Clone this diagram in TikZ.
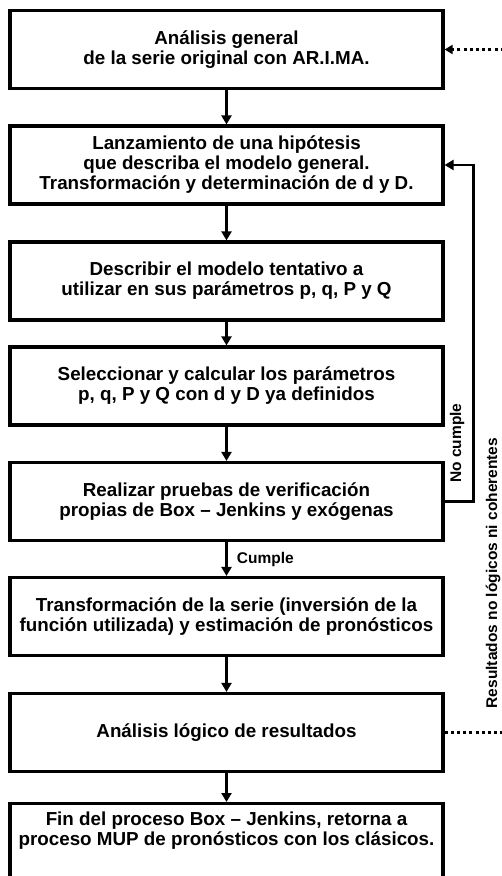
\documentclass[tikz,border=0pt]{standalone}
\usepackage{fontspec}
\setmainfont{Liberation Sans}
\usetikzlibrary{arrows.meta,positioning,calc}

\begin{document}
\begin{tikzpicture}[x=1pt, y=-1pt,
    paso/.style={draw, line width=3.2pt, minimum width=433pt, minimum height=78pt, align=center, inner sep=4pt,
        font=\fontsize{18.8}{20}\selectfont\bfseries},
    arr/.style={-{Triangle[length=9pt,width=10pt]}, line width=2.8pt},
    punteada/.style={line width=2.8pt, dash pattern=on 3pt off 3.2pt},
    etiq/.style={font=\fontsize{15.5}{17}\selectfont\bfseries, inner sep=1pt}
]
\useasboundingbox (0,0) rectangle (501,876);

\node[paso] (general) at (226.5,49.5) {Análisis general\\de la serie original con AR.I.MA.};
\node[paso] (hipotesis) at (226.5,165) {Lanzamiento de una hipótesis\\que describa el modelo general.\\Transformación y determinación de d y D.};
\node[paso] (tentativo) at (226.5,281) {Describir el modelo tentativo a\\utilizar en sus parámetros p, q, P y Q};
\node[paso] (parametros) at (226.5,386) {Seleccionar y calcular los parámetros\\p, q, P y Q con d y D ya definidos};
\node[paso] (pruebas) at (226.5,501.5) {Realizar pruebas de verificación\\propias de Box -- Jenkins y exógenas};
\node[paso] (pronostico) at (226.5,616.5) {Transformación de la serie (inversión de la\\función utilizada) y estimación de pronósticos};
\node[paso] (logico) at (226.5,732.5) {Análisis lógico de resultados};
\node[paso, anchor=north, text depth=70pt, inner ysep=8pt] (fin) at (226.5,802) {Fin del proceso Box -- Jenkins, retorna a\\proceso MUP de pronósticos con los clásicos.};

\draw[arr] (general) -- (hipotesis);
\draw[arr] (hipotesis) -- (tentativo);
\draw[arr] (tentativo) -- (parametros);
\draw[arr] (parametros) -- (pruebas);
\draw[arr] (pruebas) -- node[etiq, right=8pt] (cumple) {Cumple} (pronostico);
\draw[arr] (pronostico) -- (logico);
\draw[arr] (logico) -- (fin.north);

% retorno si no cumple
\coordinate (giro) at ($(pruebas.east)+(29,0)$);
\draw[arr] (pruebas.east) -- (giro) |- (hipotesis.east);
\node[etiq, rotate=90] (nocumple) at (457,443) {No cumple};

% resultados no coherentes
\coordinate (salida) at (510,732.5);
\coordinate (entrada) at (510,49.5);
\draw[punteada] (logico.east) -- (salida);
\draw[punteada, -{Triangle[length=8pt,width=9pt]}] (entrada) -- (general.east);
\node[etiq, rotate=90] (incoherente) at (493,573) {Resultados no lógicos ni coherentes};
\end{tikzpicture}
\end{document}
